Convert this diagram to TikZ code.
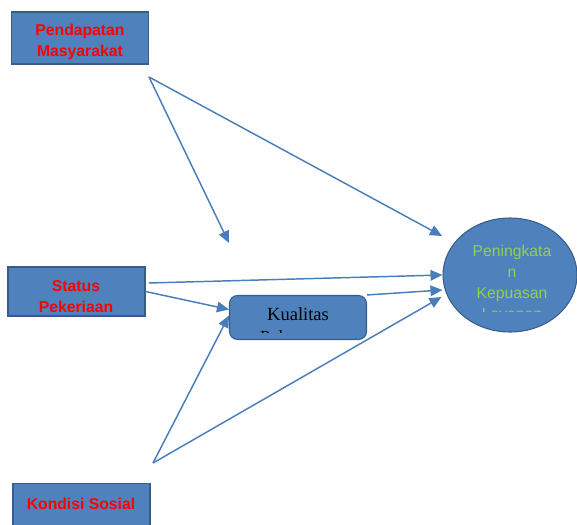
\documentclass[tikz,border=0pt]{standalone}
\usepackage{fontspec}
\setmainfont{Liberation Serif}
\setsansfont{Liberation Sans}
\usetikzlibrary{arrows.meta,shapes.geometric}
\definecolor{boxblue}{HTML}{4F81BD}
\definecolor{boxedge}{HTML}{385D8A}
\definecolor{linkblue}{HTML}{4A7EBB}
\definecolor{labelred}{HTML}{FF0000}
\definecolor{labelgreen}{HTML}{92D050}

\begin{document}
\begin{tikzpicture}[x=0.75pt,y=-0.75pt,box/.style={draw=boxedge,fill=boxblue,line width=0.8pt,minimum width=102.75pt,inner sep=0pt},redtext/.style={text=labelred,font=\sffamily\bfseries\fontsize{11.8}{15.75}\selectfont,align=center,anchor=base,inner sep=0pt},arrow/.style={-{Triangle[length=9pt,width=8pt]},line width=1.1pt,draw=linkblue}]
\useasboundingbox (0,0) rectangle (577,524);
\clip (0,0) rectangle (577,524);
\node[box,minimum height=39pt] (income) at (80,38) {};
\node[redtext] (incometext) at (80,56.7) {Pendapatan\\Masyarakat};
\node[box,minimum height=36.75pt] (stat) at (76.5,291.5) {};
\begin{scope}
\clip (8,267) rectangle (145,311.5);
\node[redtext] (stattext) at (76,312.3) {Status\\Pekerjaan};
\end{scope}
\node[box,rounded corners=6pt,minimum height=33pt] (kual) at (298,317.5) {};
\begin{scope}
\clip (229,295) rectangle (367,332);
\node[font=\rmfamily\fontsize{13.9}{17.25}\selectfont,align=center,anchor=base,inner sep=0pt] (kualtext) at (298,343) {Kualitas\\Pelayanan};
\end{scope}
\node[box,ellipse,minimum width=100.5pt,minimum height=85.5pt] (goal) at (510,275) {};
\begin{scope}
\clip (445,218) rectangle (577,311);
\node[text=labelgreen,font=\sffamily\fontsize{11.8}{15.75}\selectfont,align=center,anchor=base,inner sep=0pt] (goaltext) at (512,319) {Peningkata\\n\\Kepuasan\\Layanan};
\end{scope}
\node[box,minimum height=40pt] (social) at (81.5,510.5) {};
\node[redtext] (socialtext) at (81,509) {Kondisi Sosial};
\coordinate (fromtop) at (149,77);
\coordinate (loose) at (229,243);
\coordinate (goalhi) at (442,236);
\coordinate (frombot) at (153,463);
\draw[arrow] (fromtop) -- (loose);
\draw[arrow] (fromtop) -- (goalhi);
\draw[arrow] ([shift={(3,-8.5)}]stat.east) -- (goal.west);
\draw[arrow] (stat.east) -- ([shift={(0,-8)}]kual.west);
\draw[arrow] (kual.north east) -- ([shift={(0,15)}]goal.west);
\draw[arrow] (frombot) -- ([shift={(0,-2)}]kual.west);
\draw[arrow] (frombot) -- ([shift={(-1,22)}]goal.west);
\end{tikzpicture}
\end{document}
